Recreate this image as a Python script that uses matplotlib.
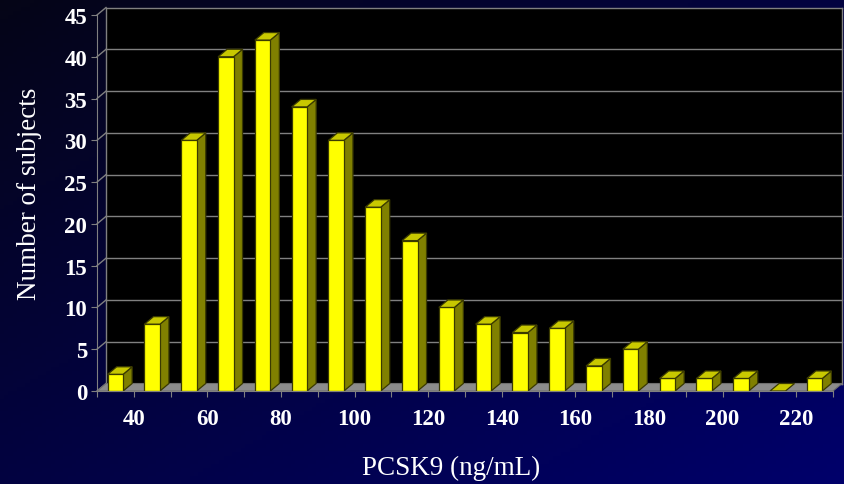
import numpy as np
import matplotlib
matplotlib.use("Agg")
import matplotlib.pyplot as plt
from matplotlib.patches import Polygon

# ---- data ----
bin_width = 10
bin_start = 30
counts = [2, 8, 30, 40, 42, 34, 30, 22, 18, 10, 8, 7, 7.5, 3, 5, 1.5, 1.5, 1.5, 0, 1.5]
x_tick_labels = [40, 60, 80, 100, 120, 140, 160, 180, 200, 220]
y_ticks = [0, 5, 10, 15, 20, 25, 30, 35, 40, 45]
x_label = "PCSK9 (ng/mL)"
y_label = "Number of subjects"

W, H = 844, 485
fig = plt.figure(figsize=(W / 100, H / 100), dpi=100)

# background gradient
bg = fig.add_axes([0, 0, 1, 1])
xx, yy = np.meshgrid(np.linspace(0, 1, 200), np.linspace(0, 1, 120))
t = (xx + yy) / 2
c0 = np.array([0.02, 0.02, 0.09])
c1 = np.array([0.0, 0.0, 0.42])
img = c0[None, None, :] * (1 - t[..., None]) + c1[None, None, :] * t[..., None]
bg.imshow(img, extent=[0, 1, 0, 1], aspect="auto", origin="upper")
bg.set_axis_off()

# main axes (front plane)
left_px, right_px, base_px, top_px = 97, 833, 392, 16
ax = fig.add_axes([left_px / W, (H - base_px) / H, (right_px - left_px) / W, (base_px - top_px) / H])
ax.patch.set_alpha(0)
n = len(counts)
x_min = bin_start
x_max = bin_start + n * bin_width
ax.set_xlim(x_min, x_max)
ax.set_ylim(0, 45)

px_x = (right_px - left_px) / (x_max - x_min)
px_y = (base_px - top_px) / 45.0
dx = 9 / px_x
dy = 7.5 / px_y

grid_col = "#808080"
# back wall
ax.add_patch(Polygon([(x_min + dx, dy), (x_max + dx, dy), (x_max + dx, 45 + dy), (x_min + dx, 45 + dy)],
                     closed=True, facecolor="black", edgecolor="none", clip_on=False, zorder=1))
for yv in y_ticks:
    ax.plot([x_min + dx, x_max + dx], [yv + dy, yv + dy], color=grid_col, lw=1.0, clip_on=False, zorder=2)
    ax.plot([x_min, x_min + dx], [yv, yv + dy], color=grid_col, lw=1.0, clip_on=False, zorder=2)
ax.plot([x_min + dx, x_min + dx], [dy, 45 + dy], color=grid_col, lw=1.0, clip_on=False, zorder=2)
ax.plot([x_max + dx, x_max + dx], [dy, 45 + dy], color=grid_col, lw=1.0, clip_on=False, zorder=2)

# floor
ax.add_patch(Polygon([(x_min, 0), (x_max, 0), (x_max + dx, dy), (x_min + dx, dy)],
                     closed=True, facecolor="#8c8c8c", edgecolor="#6e6e6e", lw=0.8, clip_on=False, zorder=3))

# bars
off = 2.9
bw = 4.2
ec = "#3a3a00"
for i, v in enumerate(counts):
    x0 = bin_start + i * bin_width + off
    x1 = x0 + bw
    if v > 0:
        ax.add_patch(Polygon([(x1, 0), (x1 + dx, dy), (x1 + dx, v + dy), (x1, v)], closed=True,
                             facecolor="#808000", edgecolor=ec, lw=0.9, clip_on=False, zorder=4))
        ax.add_patch(Polygon([(x0, 0), (x1, 0), (x1, v), (x0, v)], closed=True,
                             facecolor="#ffff00", edgecolor=ec, lw=0.9, clip_on=False, zorder=5))
    ax.add_patch(Polygon([(x0, v), (x1, v), (x1 + dx, v + dy), (x0 + dx, v + dy)], closed=True,
                         facecolor="#c8c800", edgecolor=ec, lw=0.9, clip_on=False, zorder=5))

# axes lines / ticks
for s in ["top", "right"]:
    ax.spines[s].set_visible(False)
for s in ["left", "bottom"]:
    ax.spines[s].set_color(grid_col)
    ax.spines[s].set_zorder(6)
ax.set_yticks(y_ticks)
ax.set_yticklabels([str(v) for v in y_ticks])
xt = [bin_start + i * bin_width for i in range(n + 1)]
ax.set_xticks(xt)
ax.set_xticklabels([str(v) if v in x_tick_labels else "" for v in xt])
ax.tick_params(axis="y", direction="out", length=4, color=grid_col, pad=3, labelcolor="white")
ax.tick_params(axis="x", direction="out", length=4, color=grid_col, pad=8, labelcolor="white")
for lab in ax.get_xticklabels() + ax.get_yticklabels():
    lab.set_fontfamily("Liberation Serif")
    lab.set_fontweight("bold")
    lab.set_fontsize(16.5)

fig.text(30 / W, 1 - 194 / H, y_label, rotation=90, ha="center", va="center",
         color="white", family="Liberation Serif", size=19.5)
fig.text(451 / W, 1 - 468 / H, x_label, ha="center", va="center",
         color="white", family="Liberation Serif", size=19.5)

fig.savefig("out.png", dpi=100)
